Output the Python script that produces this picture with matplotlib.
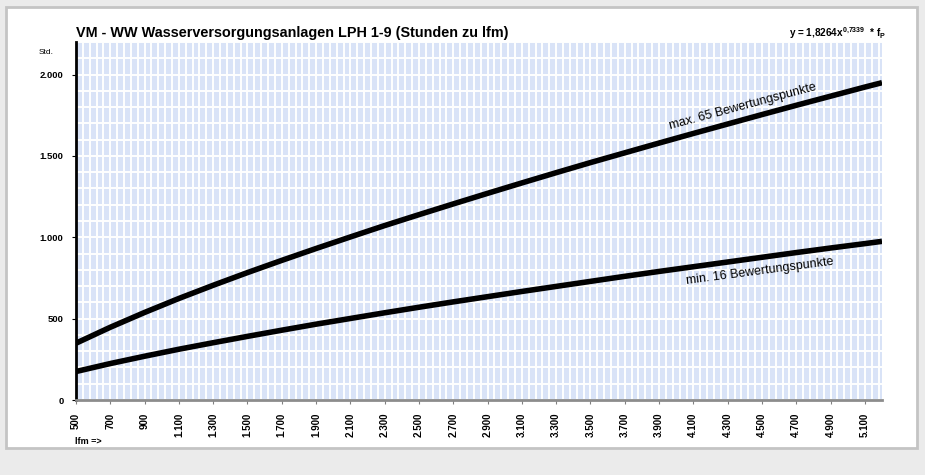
import matplotlib.pyplot as plt
import numpy as np
from matplotlib.patches import Rectangle

# lfm values read at the tick positions
lfm = [500, 700, 900, 1100, 1300, 1500, 1700, 1900, 2100, 2300, 2500, 2700,
       2900, 3100, 3300, 3500, 3700, 3900, 4100, 4300, 4500, 4700, 4900,
       5100, 5200]
# min. 16 Bewertungspunkte (Std.)
std_min = [175, 224, 269, 312, 352, 391, 429, 466, 501, 536, 570, 603,
           635, 667, 698, 729, 760, 790, 819, 848, 877, 906, 934, 961, 975]
# max. 65 Bewertungspunkte (Std.)
std_max = [349, 447, 538, 624, 705, 783, 858, 931, 1002, 1072, 1139, 1205,
           1270, 1334, 1397, 1459, 1519, 1579, 1638, 1696, 1754, 1811,
           1867, 1923, 1950]

xticks = list(range(500, 5200, 200))
yticks = [0, 500, 1000, 1500, 2000]


def de_fmt(v):
    return f"{v:,}".replace(",", ".")


plt.rcParams['font.family'] = ['Liberation Sans', 'DejaVu Sans']
plt.rcParams['mathtext.fontset'] = 'custom'
plt.rcParams['mathtext.rm'] = 'Liberation Sans'
plt.rcParams['mathtext.bf'] = 'Liberation Sans:bold'

fig = plt.figure(figsize=(9.25, 4.75), dpi=100)
fig.patch.set_facecolor('#ebebeb')
fig.patches.append(Rectangle((6 / 925, 1 - 448 / 475), 911 / 925, 441 / 475,
                             transform=fig.transFigure, facecolor='white',
                             edgecolor='#c4c4c4', linewidth=2, zorder=-5))

ax = fig.add_axes([76 / 925, 1 - 400 / 475, 806 / 925, 358 / 475])
ax.set_zorder(2)
ax.set_facecolor('#d9e3f7')

ax.plot(lfm, std_max, color='black', lw=4, solid_capstyle='butt', zorder=3)
ax.plot(lfm, std_min, color='black', lw=4, solid_capstyle='butt', zorder=3)

ax.set_xlim(500, 5200)
ax.set_ylim(0, 2200)

ax.set_xticks(xticks)
ax.set_xticklabels([de_fmt(v) for v in xticks], rotation=90, fontsize=7,
                   fontweight='bold')
ax.set_xticks(np.arange(500, 5200, 40), minor=True)
ax.set_yticks(yticks)
ax.set_yticklabels([de_fmt(v) for v in yticks], fontsize=6.8, fontweight='bold')
ax.set_yticks(np.arange(0, 2201, 100), minor=True)

ax.grid(True, which='both', color='white', lw=1.4, zorder=0)
ax.set_axisbelow(True)
ax.tick_params(axis='x', which='major', length=3, color='#808080', pad=6)
ax.tick_params(axis='y', which='major', length=3, color='black', pad=6)
ax.tick_params(which='minor', length=0)

for s in ['top', 'right']:
    ax.spines[s].set_visible(False)
ax.spines['left'].set_color('black')
ax.spines['left'].set_linewidth(2)
ax.spines['bottom'].set_color('#8c8c8c')
ax.spines['bottom'].set_linewidth(2)

ax.text(4390, 1805, 'max. 65 Bewertungspunkte', rotation=15, fontsize=9,
        ha='center', va='center', rotation_mode='anchor', zorder=4)
ax.text(4490, 790, 'min. 16 Bewertungspunkte', rotation=7.5, fontsize=9,
        ha='center', va='center', rotation_mode='anchor', zorder=4)

fig.text(76 / 925, 1 - 37 / 475,
         'VM - WW Wasserversorgungsanlagen LPH 1-9 (Stunden zu lfm)',
         fontsize=10.4, fontweight='bold', ha='left', va='baseline')
fig.text(886 / 925, 1 - 37 / 475,
         r'y = 1,8264x$^{\mathbf{0{,}7339}}$  * f$_\mathbf{P}$',
         fontsize=7.2, fontweight='bold', ha='right', va='baseline')
fig.text(46 / 925, 1 - 52 / 475, 'Std.', fontsize=6, ha='center', va='center')
fig.text(75 / 925, 1 - 441 / 475, 'lfm =>', fontsize=6.5, fontweight='bold',
         ha='left', va='center')

fig.savefig('out.png', dpi=100, facecolor=fig.get_facecolor())
